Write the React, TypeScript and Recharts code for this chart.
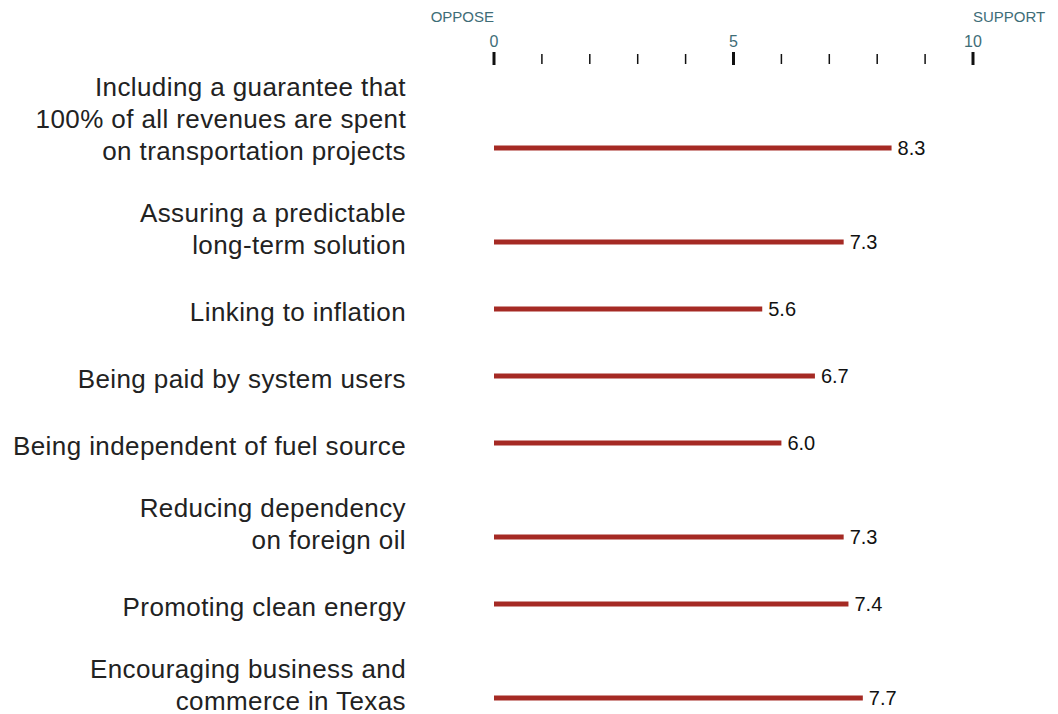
import React from "react";
import { ComposedChart, Bar, XAxis, YAxis, LabelList } from "recharts";

const categories: string[][] = [
  ["Including a guarantee that", "100% of all revenues are spent", "on transportation projects"],
  ["Assuring a predictable", "long-term solution"],
  ["Linking to inflation"],
  ["Being paid by system users"],
  ["Being independent of fuel source"],
  ["Reducing dependency", "on foreign oil"],
  ["Promoting clean energy"],
  ["Encouraging business and", "commerce in Texas"],
];
const values: number[] = [8.3, 7.3, 5.6, 6.7, 6.0, 7.3, 7.4, 7.7];
const xTicks: number[] = [0, 1, 2, 3, 4, 5, 6, 7, 8, 9, 10];
const majorTicks: number[] = [0, 5, 10];
const leftLabel = "OPPOSE";
const rightLabel = "SUPPORT";

// layout: row positions derived from number of label lines
const FIRST = 83;
const ROW_GAP = 67;
const LINE_EXTRA = 27;
const positions: number[] = [];
categories.forEach((lines, i) => {
  if (i === 0) positions.push(FIRST);
  else positions.push(positions[i - 1] + ROW_GAP + LINE_EXTRA * (lines.length - 1));
});
const DOMAIN_MAX = 649;

const data = categories.map((c, i) => ({ pos: positions[i], value: values[i] }));

const TEAL = "#3e6d77";
const FONT = "'Liberation Sans', Arial, Helvetica, sans-serif";

const XTick = (props: any) => {
  const { x, y, payload } = props;
  const v = payload.value;
  const major = majorTicks.includes(v);
  return (
    <g>
      {major ? (
        <line x1={x} x2={x} y1={y - 13} y2={y} stroke="#111" strokeWidth={3} />
      ) : (
        <line x1={x} x2={x} y1={y - 11} y2={y - 1} stroke="#111" strokeWidth={1.5} />
      )}
      {major && (
        <text x={x} y={y - 18} textAnchor="middle" fontSize={16} fill={TEAL} fontFamily={FONT}>
          {v}
        </text>
      )}
      {v === 0 && (
        <text x={x} y={y - 43} textAnchor="end" fontSize={15} fill={TEAL} fontFamily={FONT}>
          {leftLabel}
        </text>
      )}
      {v === 10 && (
        <text x={x} y={y - 43} textAnchor="start" fontSize={15} fill={TEAL} fontFamily={FONT}>
          {rightLabel}
        </text>
      )}
    </g>
  );
};

const YTick = (props: any) => {
  const { x, y, payload } = props;
  const idx = positions.indexOf(payload.value);
  if (idx < 0) return null;
  const lines = categories[idx];
  const n = lines.length;
  return (
    <text x={x} y={y} textAnchor="end" fontSize={26} letterSpacing={0.4} fill="#222" fontFamily={FONT}>
      {lines.map((l, i) => (
        <tspan key={i} x={x} y={y + 11.5 - (n - 1 - i) * 32}>
          {l}
        </tspan>
      ))}
    </text>
  );
};

export default function App() {
  return (
    <div style={{ width: 1050, height: 706, background: "#fff" }}>
      <ComposedChart
        width={1050}
        height={706}
        data={data}
        layout="vertical"
        margin={{ top: 0, right: 85, bottom: 0, left: 0 }}
        style={{ fontFamily: FONT }}
      >
        <XAxis
          type="number"
          orientation="top"
          domain={[0, 10]}
          ticks={xTicks}
          interval={0}
          height={57}
          axisLine={false}
          tickLine={false}
          tickSize={0}
          tickMargin={0}
          tick={<XTick />}
        />
        <YAxis
          type="number"
          dataKey="pos"
          domain={[0, DOMAIN_MAX]}
          ticks={positions}
          interval={0}
          width={486}
          axisLine={false}
          tickLine={false}
          tickSize={0}
          tickMargin={88}
          tick={<YTick />}
        />
        <Bar dataKey="value" fill="#a52a24" barSize={5} isAnimationActive={false}>
          <LabelList dataKey="value" position="right" offset={6} fontSize={20} fill="#111" fontFamily={FONT} formatter={(v: any) => Number(v).toFixed(1)} />
        </Bar>
      </ComposedChart>
    </div>
  );
}
